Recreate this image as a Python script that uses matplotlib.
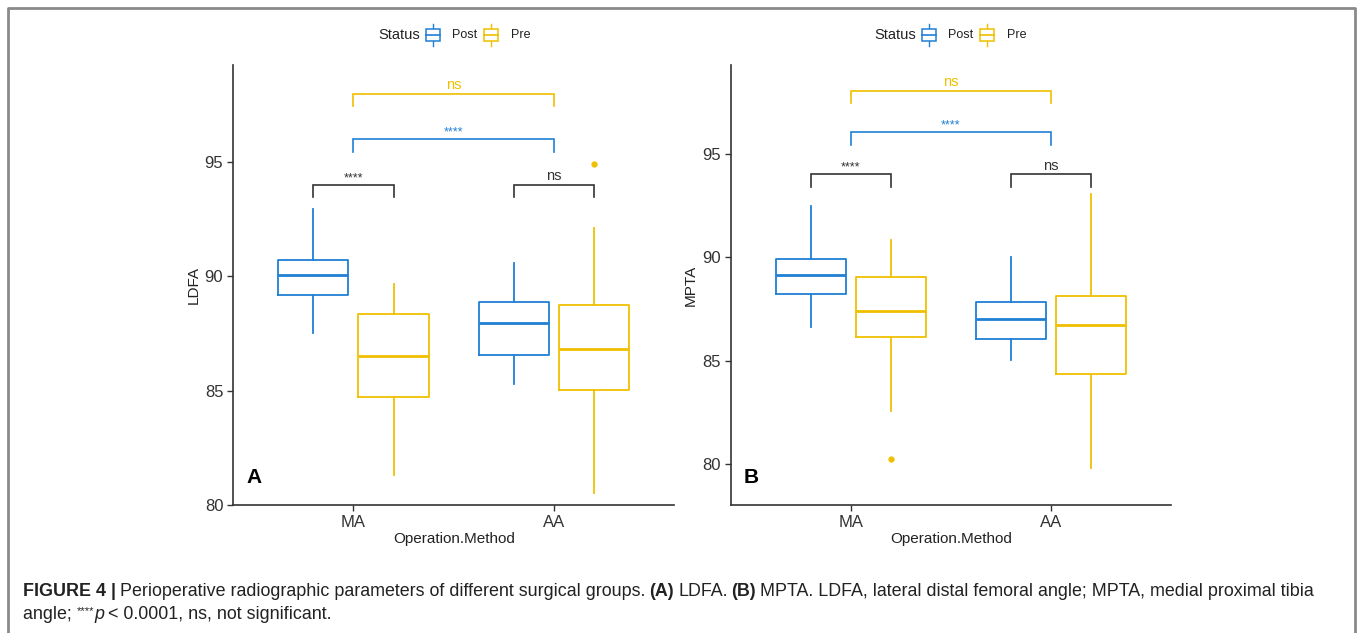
import matplotlib
matplotlib.use("Agg")
import matplotlib.pyplot as plt
from matplotlib.lines import Line2D
from matplotlib.patches import Rectangle

plt.rcParams['font.family'] = ['Liberation Sans', 'DejaVu Sans']

# ---------------- data ----------------
categories = ["MA", "AA"]
groups = ["Post", "Pre"]
colors = {"Post": "#1F80D4", "Pre": "#EFC000"}

# LDFA (panel A): [whislo, q1, med, q3, whishi] per category
ldfa_post = {"MA": [87.54, 89.17, 90.06, 90.74, 92.93], "AA": [85.29, 86.56, 87.96, 88.89, 90.57]}
ldfa_pre = {"MA": [81.31, 84.74, 86.52, 88.37, 89.65], "AA": [80.51, 85.01, 86.82, 88.76, 92.14]}
ldfa_out_post = {"MA": [], "AA": []}
ldfa_out_pre = {"MA": [], "AA": [94.90]}

# MPTA (panel B)
mpta_post = {"MA": [86.65, 88.21, 89.14, 89.93, 92.49], "AA": [85.05, 86.07, 87.02, 87.85, 89.99]}
mpta_pre = {"MA": [82.59, 86.16, 87.40, 89.06, 90.83], "AA": [79.81, 84.36, 86.74, 88.14, 93.05]}
mpta_out_post = {"MA": [], "AA": []}
mpta_out_pre = {"MA": [80.26], "AA": []}

# significance brackets: (y_top, label)
ldfa_within = [(94.0, "****"), (94.0, "ns")]      # MA, AA Post vs Pre
ldfa_between = {"Post": (96.0, "****"), "Pre": (98.0, "ns")}
mpta_within = [(94.0, "****"), (94.0, "ns")]
mpta_between = {"Post": (96.03, "****"), "Pre": (98.02, "ns")}

yticks = [80, 85, 90, 95]

# ---------------- figure ----------------
W, H = 1357, 633
fig = plt.figure(figsize=(W / 100, H / 100), dpi=100)


def px_axes(left, right, top, bottom):
    return fig.add_axes([left / W, 1 - bottom / H, (right - left) / W, (bottom - top) / H])


def draw_panel(ax, post, pre, out_post, out_pre, within, between, ylim, ylabel, letter):
    dodge = 0.2
    bw = 0.35
    for gi, (g, d, outs) in enumerate([("Post", post, out_post), ("Pre", pre, out_pre)]):
        stats = []
        pos = []
        for ci, c in enumerate(categories):
            lo, q1, med, q3, hi = d[c]
            stats.append(dict(whislo=lo, q1=q1, med=med, q3=q3, whishi=hi, fliers=outs[c]))
            pos.append(ci + 1 + (-dodge if g == "Post" else dodge))
        col = colors[g]
        ax.bxp(stats, positions=pos, widths=bw, showcaps=False, patch_artist=False,
               boxprops=dict(color=col, linewidth=1.3),
               whiskerprops=dict(color=col, linewidth=1.3),
               medianprops=dict(color=col, linewidth=2.0),
               flierprops=dict(marker='o', markerfacecolor=col, markeredgecolor=col,
                               markersize=3.5, linestyle='none'))
    drop = (ylim[1] - ylim[0]) * 0.028
    # within-category brackets
    for ci, (yt, lab) in enumerate(within):
        x0, x1 = ci + 1 - dodge, ci + 1 + dodge
        ax.plot([x0, x0, x1, x1], [yt - drop, yt, yt, yt - drop], color="#333333", lw=1.2,
                solid_joinstyle='miter')
        if lab.startswith("*"):
            ax.text((x0 + x1) / 2, yt + drop * 0.05, lab, ha='center', va='bottom', fontsize=9,
                    color="#333333")
        else:
            ax.text((x0 + x1) / 2, yt + drop * 0.15, lab, ha='center', va='bottom', fontsize=10.5,
                    color="#333333")
    for g in groups:
        yt, lab = between[g]
        x0, x1 = 1, 2
        ax.plot([x0, x0, x1, x1], [yt - drop, yt, yt, yt - drop], color=colors[g], lw=1.2,
                solid_joinstyle='miter')
        if lab.startswith("*"):
            ax.text(1.5, yt + drop * 0.05, lab, ha='center', va='bottom', fontsize=9,
                    color=colors[g])
        else:
            ax.text(1.5, yt + drop * 0.15, lab, ha='center', va='bottom', fontsize=10.5,
                    color=colors[g])

    ax.set_xlim(0.4, 2.6)
    ax.set_ylim(*ylim)
    ax.set_xticks([1, 2])
    ax.set_xticklabels(categories, fontsize=12, color="#333333")
    ax.set_yticks(yticks)
    ax.set_yticklabels([str(t) for t in yticks], fontsize=12, color="#333333")
    for s in ["top", "right"]:
        ax.spines[s].set_visible(False)
    for s in ["left", "bottom"]:
        ax.spines[s].set_color("#333333")
        ax.spines[s].set_linewidth(1.2)
    ax.tick_params(axis='both', length=4, width=1.0, color="#333333", pad=3)
    ax.set_xlabel("Operation.Method", fontsize=11, color="#222222", labelpad=2)
    ax.set_ylabel(ylabel, fontsize=11, color="#222222", labelpad=3)
    ax.text(0.03, 0.04, letter, transform=ax.transAxes, fontsize=15, fontweight='bold',
            ha='left', va='bottom', color="black")


axA = px_axes(233, 674.4, 65, 505)
draw_panel(axA, ldfa_post, ldfa_pre, ldfa_out_post, ldfa_out_pre, ldfa_within, ldfa_between,
           (80.0, 99.25), "LDFA", "A")
axB = px_axes(730.7, 1170.7, 65, 505)
draw_panel(axB, mpta_post, mpta_pre, mpta_out_post, mpta_out_pre, mpta_within, mpta_between,
           (78.04, 99.28), "MPTA", "B")


# ---------------- legends ----------------
def fx(x):
    return x / W


def fy(y):
    return 1 - y / H


def legend_at(x0):
    fig.text(fx(x0), fy(35), "Status", fontsize=10.5, ha='left', va='center', color="#222222")
    for i, (g, kx, tx) in enumerate([("Post", x0 + 48, x0 + 74), ("Pre", x0 + 106, x0 + 133)]):
        col = colors[g]
        fig.add_artist(Line2D([fx(kx + 7), fx(kx + 7)], [fy(24), fy(46)], color=col, lw=1.0,
                              transform=fig.transFigure, zorder=2))
        fig.add_artist(Rectangle((fx(kx), fy(41)), 14 / W, 12 / H, facecolor='white',
                                 edgecolor=col, lw=1.1, transform=fig.transFigure, zorder=3))
        fig.add_artist(Line2D([fx(kx), fx(kx + 14)], [fy(35), fy(35)], color=col, lw=1.2,
                              transform=fig.transFigure, zorder=4))
        fig.text(fx(tx), fy(35), g, fontsize=9, ha='left', va='center', color="#222222")


legend_at(378)
legend_at(874)

# ---------------- frame ----------------
fc = "#8a8a8a"
fig.add_artist(Line2D([fx(8), fx(8), fx(1355), fx(1355)], [fy(640), fy(8), fy(8), fy(640)],
                      color=fc, lw=2.0, transform=fig.transFigure))

# ---------------- caption ----------------
renderer = fig.canvas.get_renderer()


def write_segments(x, y, segs, fs=12.9):
    cur = x
    for txt, kw in segs:
        t = fig.text(cur / W, fy(y), txt, fontsize=kw.get('fs', fs), ha='left', va='baseline',
                     fontweight=kw.get('weight', 'normal'), fontstyle=kw.get('style', 'normal'),
                     color="#222222")
        if kw.get('raise'):
            t.set_position((cur / W, fy(y + kw['raise'])))
        bb = t.get_window_extent(renderer=renderer)
        cur += bb.width + kw.get('gap', 0)


line1 = [("FIGURE 4 |", {'weight': 'bold', 'gap': 4}),
         ("Perioperative radiographic parameters of different surgical groups.", {'gap': 4}),
         ("(A)", {'weight': 'bold', 'gap': 4}),
         ("LDFA.", {'gap': 4}),
         ("(B)", {'weight': 'bold', 'gap': 4}),
         ("MPTA. LDFA, lateral distal femoral angle; MPTA, medial proximal tibia", {})]
write_segments(23, 596, line1)
line2 = [("angle; ", {}),
         ("****", {'fs': 8, 'raise': -5}),
         ("p", {'style': 'italic', 'gap': 4}),
         ("< 0.0001, ns, not significant.", {})]
write_segments(23, 619, line2)

fig.savefig("out.png", dpi=100, facecolor="white")
